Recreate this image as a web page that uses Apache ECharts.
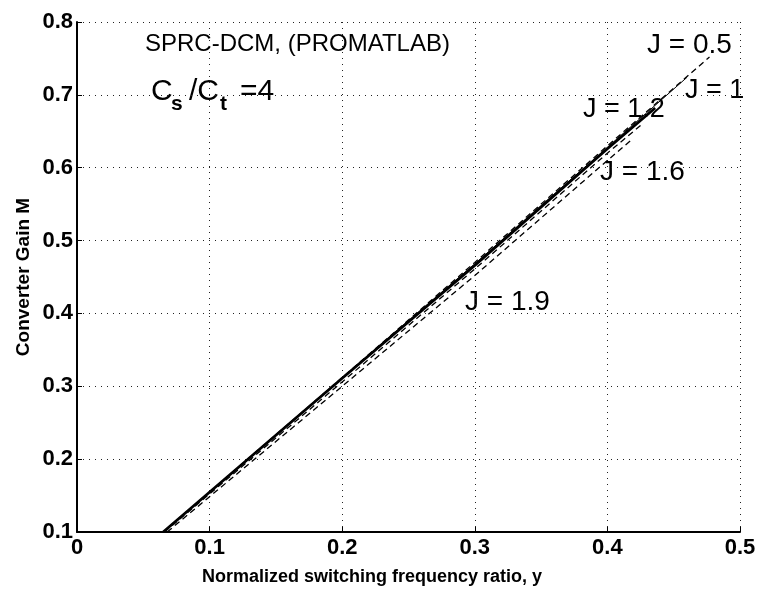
<!DOCTYPE html>
<html><head><meta charset="utf-8">
<script src="https://cdn.jsdelivr.net/npm/echarts@6/dist/echarts.min.js"></script>
<style>html,body{margin:0;padding:0;background:#fff}#c{width:760px;height:589px}</style>
</head><body><div id="c"></div>
<script>
const xTicks = [0, 0.1, 0.2, 0.3, 0.4, 0.5];
const yTicks = [0.1, 0.2, 0.3, 0.4, 0.5, 0.6, 0.7, 0.8];
const seriesNames = ['J = 0.5', 'J = 1', 'J = 1.2', 'J = 1.6', 'J = 1.9'];
const yJ05 = [[0.065,0.1],[0.2,0.312],[0.3,0.470],[0.4,0.630],[0.477,0.752]];
const yJ1  = [[0.065,0.1],[0.2,0.312],[0.3,0.468],[0.4,0.628],[0.46,0.724]];
const yJ12 = [[0.065,0.1],[0.2,0.311],[0.3,0.466],[0.4,0.626],[0.436,0.682]];
const yJ16 = [[0.066,0.1],[0.2,0.306],[0.3,0.461],[0.4,0.620],[0.425,0.658]];
const yJ19 = [[0.068,0.1],[0.2,0.300],[0.3,0.452],[0.4,0.610],[0.418,0.638]];

const font = 'Liberation Sans, Arial, Helvetica, sans-serif';
const chart = echarts.init(document.getElementById('c'));
const grid = {left:77, right:20, top:22, bottom:57};
const dotted = {color:'#222', width:1, type:[1,5]};
function lab(text, x, y, size, weight){
  return {type:'text', x:x, y:y, style:{text:text, font:(weight||'')+' '+size+'px '+font, fill:'#000', verticalAlign:'middle'}};
}
chart.setOption({
  animation:false,
  grid: grid,
  xAxis: {
    type:'value', min:0, max:0.5, interval:0.1,
    axisLine:{show:true, onZero:false, lineStyle:{color:'#000', width:2}},
    axisTick:{show:true, inside:true, length:5, lineStyle:{color:'#000'}},
    axisLabel:{color:'#000', fontFamily:font, fontWeight:'bold', fontSize:22, margin:5,
      formatter:v => { const t = xTicks.find(a => Math.abs(a-v)<1e-9); return t===0?'0':String(t); }},
    splitLine:{show:true, lineStyle:dotted}
  },
  yAxis: {
    type:'value', min:0.1, max:0.8, interval:0.1,
    axisLine:{show:true, onZero:false, lineStyle:{color:'#000', width:2}},
    axisTick:{show:true, inside:true, length:5, lineStyle:{color:'#000'}},
    axisLabel:{color:'#000', fontFamily:font, fontWeight:'bold', fontSize:22, margin:4,
      formatter:v => { const t = yTicks.find(a => Math.abs(a-v)<1e-9); return String(t); }},
    splitLine:{show:true, lineStyle:dotted}
  },
  series: [
    {name:seriesNames[0], type:'line', data:yJ05, showSymbol:false, lineStyle:{color:'#000', width:1.3, type:[6,4]}},
    {name:seriesNames[1], type:'line', data:yJ1, showSymbol:false, lineStyle:{color:'#000', width:1}},
    {name:seriesNames[2], type:'line', data:yJ12, showSymbol:false, lineStyle:{color:'#000', width:2.8}},
    {name:seriesNames[3], type:'line', data:yJ16, showSymbol:false, lineStyle:{color:'#000', width:1.3, type:[6,4]}},
    {name:seriesNames[4], type:'line', data:yJ19, showSymbol:false, lineStyle:{color:'#000', width:1.3, type:[6,4]}}
  ],
  graphic: [
    lab('SPRC-DCM, (PROMATLAB)', 145, 44, 24),
    lab('C', 151, 92, 30),
    lab('s', 171, 104, 21, 'bold'),
    lab('/C', 189, 92, 30),
    lab('t', 220, 104, 21, 'bold'),
    lab('=4', 240, 92, 30),
    lab('J = 0.5', 647, 45, 28),
    lab('J = 1', 685, 91, 27),
    lab('J = 1.2', 583, 110, 27),
    lab('J = 1.6', 600, 172, 28),
    lab('J = 1.9', 465, 302, 28),
    {type:'text', x:372, y:577, style:{text:'Normalized switching frequency ratio, y', font:'bold 18px '+font, fill:'#000', align:'center', verticalAlign:'middle'}},
    {type:'text', x:24, y:277, rotation:Math.PI/2, style:{text:'Converter Gain M', font:'bold 19px '+font, fill:'#000', align:'center', verticalAlign:'middle'}}
  ]
});
</script></body></html>
